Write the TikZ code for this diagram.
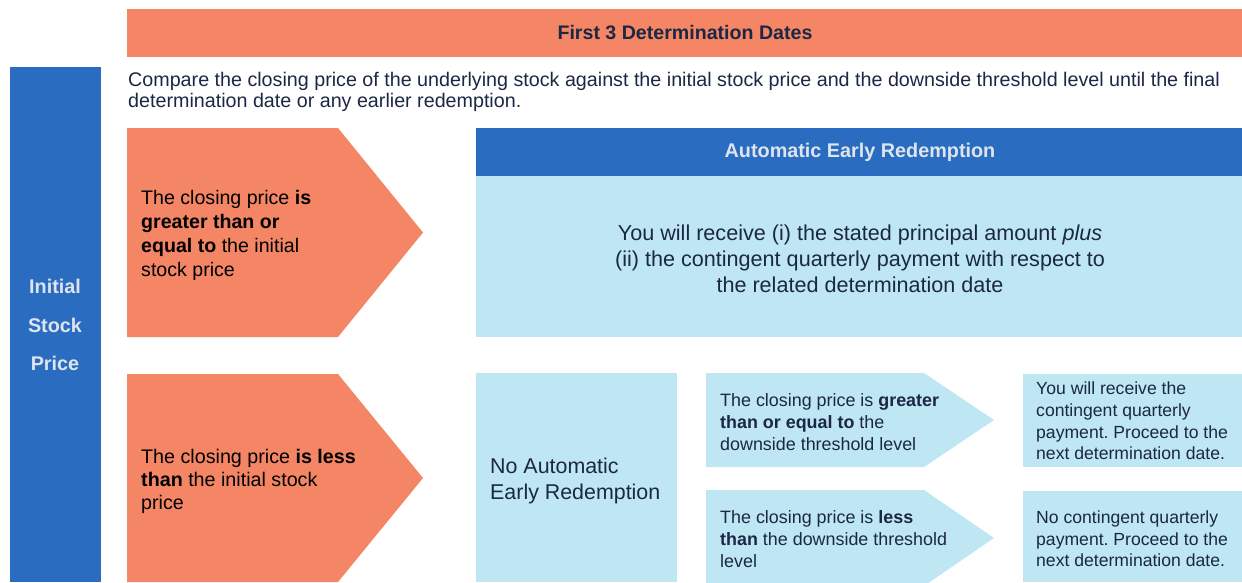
\documentclass[tikz,border=0pt]{standalone}
\usepackage{fontspec}
\setmainfont{Liberation Sans}
\frenchspacing
\definecolor{orng}{RGB}{244,134,101}
\definecolor{bluedark}{RGB}{42,108,192}
\definecolor{bluelight}{RGB}{190,231,243}
\definecolor{navy}{RGB}{27,39,68}
\definecolor{pale}{RGB}{222,228,238}
\tikzset{
  txt/.style={inner sep=0pt, anchor=west, align=left, text=navy},
  fs/.style n args={2}{font=\fontsize{#1}{#2}\selectfont}
}
\begin{document}
\begin{tikzpicture}[x=1pt,y=-1pt]
\useasboundingbox (0,0) rectangle (1242,582);
% top header
\fill[orng] (127,9) rectangle (1242,57);
\node[inner sep=0pt, text=navy, fs={19.6}{22}] (hdr) at (685,33) {\bfseries First 3 Determination Dates};
% left bar
\fill[bluedark] (10,67) rectangle (101,582);
\node[inner sep=0pt, align=center, text=pale, fs={19.8}{38.5}] (isp) at (55,325) {\bfseries Initial\\\bfseries Stock\\\bfseries Price};
% intro
\node[txt, fs={19.7}{21}] (intro) at (128,92) {Compare the closing price of the underlying stock against the initial stock price and the downside threshold level until the final\\determination date or any earlier redemption.};
% orange pentagon 1
\fill[orng] (127,128) -- (338,128) -- (423,232.5) -- (338,337) -- (127,337) -- cycle;
\node[txt, text=black, fs={19.6}{24}] (p1) at (141,235) {The closing price \textbf{is}\\\textbf{greater than or}\\\textbf{equal to} the initial\\stock price};
% automatic early redemption
\fill[bluedark] (476,128) rectangle (1242,176);
\fill[bluelight] (476,176) rectangle (1242,337);
\node[inner sep=0pt, text=pale, fs={19.8}{22}] (aer) at (860,152) {\bfseries Automatic Early Redemption};
\node[inner sep=0pt, align=center, text=navy, fs={21.6}{26}] (aert) at (860,259) {You will receive (i) the stated principal amount \textit{plus}\\(ii) the contingent quarterly payment with respect to\\the related determination date};
% orange pentagon 2
\fill[orng] (127,374) -- (338,374) -- (423,478) -- (338,582) -- (127,582) -- cycle;
\node[txt, text=black, fs={19.7}{23}] (p2) at (141,481) {The closing price \textbf{is less}\\\textbf{than} the initial stock\\price};
% no automatic early redemption
\fill[bluelight] (476,373) rectangle (677,582);
\node[txt, fs={21.4}{26}] (naer) at (490,481) {No Automatic\\Early Redemption};
% small pentagons
\fill[bluelight] (706,373) -- (924,373) -- (994,420) -- (924,467) -- (706,467) -- cycle;
\node[txt, fs={17.9}{22}] (sp1) at (720,422) {The closing price is \textbf{greater}\\\textbf{than or equal to} the\\downside threshold level};
\fill[bluelight] (706,490) -- (924,490) -- (994,538) -- (924,586) -- (706,586) -- cycle;
\node[txt, fs={17.9}{22}] (sp2) at (720,539) {The closing price is \textbf{less}\\\textbf{than} the downside threshold\\level};
% right boxes
\fill[bluelight] (1023,374) rectangle (1242,467);
\node[txt, fs={17.6}{21.6}] (r1) at (1036,421) {You will receive the\\contingent quarterly\\payment. Proceed to the\\next determination date.};
\fill[bluelight] (1023,491) rectangle (1242,582);
\node[txt, fs={17.6}{21.6}] (r2) at (1036,539) {No contingent quarterly\\payment. Proceed to the\\next determination date.};
\end{tikzpicture}
\end{document}
